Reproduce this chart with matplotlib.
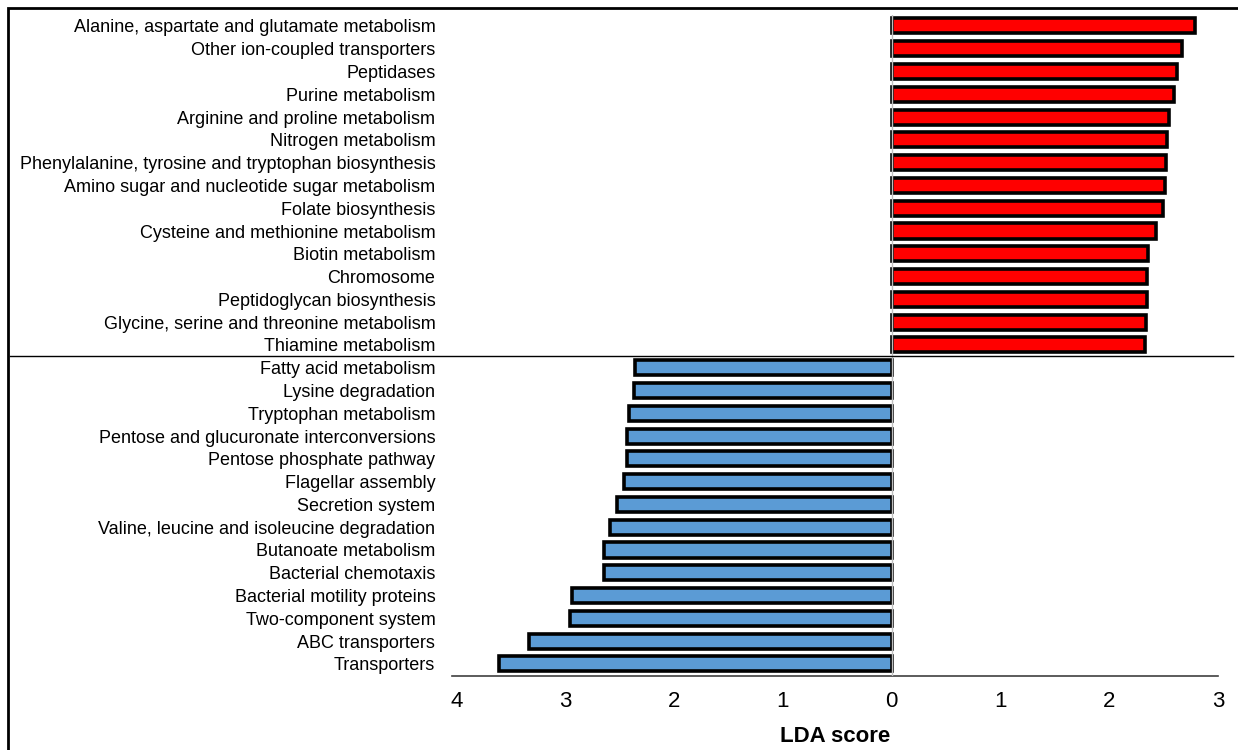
import numpy as np
import matplotlib
matplotlib.use("Agg")
import matplotlib.pyplot as plt
import matplotlib.transforms as mtransforms
from matplotlib.patches import Rectangle
from matplotlib.lines import Line2D

plt.rcParams['font.family'] = ['Liberation Sans', 'DejaVu Sans']

# enriched in group A (red, positive LDA)
red_labels = [
    "Alanine, aspartate and glutamate metabolism",
    "Other ion-coupled transporters",
    "Peptidases",
    "Purine metabolism",
    "Arginine and proline metabolism",
    "Nitrogen metabolism",
    "Phenylalanine, tyrosine and tryptophan biosynthesis",
    "Amino sugar and nucleotide sugar metabolism",
    "Folate biosynthesis",
    "Cysteine and methionine metabolism",
    "Biotin metabolism",
    "Chromosome",
    "Peptidoglycan biosynthesis",
    "Glycine, serine and threonine metabolism",
    "Thiamine metabolism",
]
red_scores = [2.79, 2.67, 2.62, 2.60, 2.55, 2.53, 2.52, 2.51, 2.49,
              2.43, 2.36, 2.35, 2.35, 2.34, 2.33]

# enriched in group B (blue, negative LDA)
blue_labels = [
    "Fatty acid metabolism",
    "Lysine degradation",
    "Tryptophan metabolism",
    "Pentose and glucuronate interconversions",
    "Pentose phosphate pathway",
    "Flagellar assembly",
    "Secretion system",
    "Valine, leucine and isoleucine degradation",
    "Butanoate metabolism",
    "Bacterial chemotaxis",
    "Bacterial motility proteins",
    "Two-component system",
    "ABC transporters",
    "Transporters",
]
blue_scores = [2.36, 2.37, 2.41, 2.43, 2.43, 2.46, 2.52, 2.59, 2.64,
               2.64, 2.94, 2.96, 3.33, 3.61]

xticks = [-4, -3, -2, -1, 0, 1, 2, 3]

labels = red_labels + blue_labels
values = np.array(red_scores + [-v for v in blue_scores])
colors = ['#ff0000'] * len(red_scores) + ['#5b9bd5'] * len(blue_scores)
ypos = np.arange(len(labels))

fig = plt.figure(figsize=(12.38, 7.5), dpi=100)
ax = fig.add_axes([452 / 1238, 1 - 676 / 750, (1218 - 452) / 1238, (676 - 15) / 750])

ax.barh(ypos, values, height=0.66, color=colors, edgecolor='black', linewidth=2.6)
ax.axvline(0, color='#bfbfbf', linewidth=1, zorder=3)

ax.set_xlim(-4.04, 3.0)
ax.set_ylim(len(labels) - 0.47, -0.48)
ax.set_yticks(ypos)
ax.set_yticklabels(labels, fontsize=13)
ax.tick_params(axis='y', length=0, pad=12)
ax.set_xticks(xticks)
ax.set_xticklabels([str(abs(t)) for t in xticks], fontsize=16)
ax.tick_params(axis='x', length=0, pad=11)
for s in ['top', 'left', 'right']:
    ax.spines[s].set_visible(False)
ax.spines['bottom'].set_color('#404040')
ax.spines['bottom'].set_linewidth(1.2)
ax.set_xlabel('LDA score', fontsize=16, fontweight='bold')
ax.xaxis.set_label_coords((835 - 452) / (1218 - 452), -0.075)

# divider between the two groups
trans = mtransforms.blended_transform_factory(fig.transFigure, ax.transData)
fig.add_artist(Line2D([10 / 1238, 1233 / 1238], [len(red_labels) - 0.5] * 2,
                      transform=trans, color='black', linewidth=1))

# outer frame (runs off right and bottom)
fig.add_artist(Rectangle((8 / 1238, -0.05), 1.1, 1 - 8 / 750 + 0.05,
                         transform=fig.transFigure, fill=False,
                         edgecolor='black', linewidth=2, clip_on=False))

fig.savefig('out.png', dpi=100)
